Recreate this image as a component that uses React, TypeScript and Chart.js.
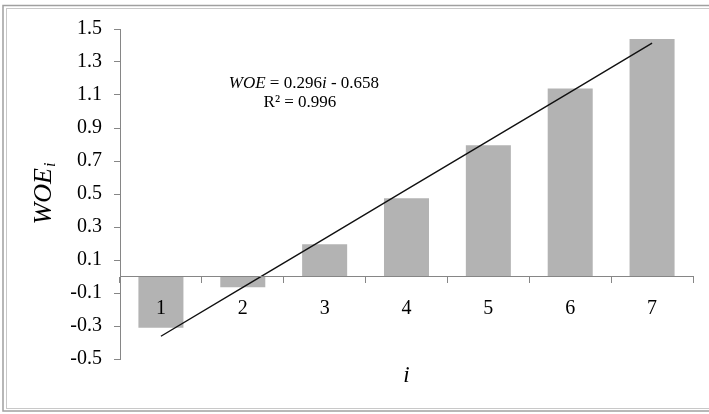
import { useEffect, useRef } from "react";
import { Chart, registerables } from "chart.js";

Chart.register(...registerables);

const categories = ["1", "2", "3", "4", "5", "6", "7"];
const woeValues = [-0.31, -0.065, 0.195, 0.475, 0.795, 1.14, 1.44];
const trendValues = [-0.362, -0.066, 0.23, 0.526, 0.822, 1.118, 1.414];
const yMin = -0.5;
const yMax = 1.5;
const yStep = 0.2;
const yTitleMain = "WOE";
const yTitleSub = "i";
const xTitle = "i";
const eqParts: [string, boolean][] = [
  ["WOE", true],
  [" = 0.296", false],
  ["i", true],
  [" - 0.658", false],
];
const r2Text = "R\u00B2 = 0.996";

const FONT = "'Liberation Serif', 'Times New Roman', serif";

const framePlugin = {
  id: "frame",
  beforeDraw(chart: any) {
    const { ctx, width, height } = chart;
    ctx.save();
    ctx.fillStyle = "#ffffff";
    ctx.fillRect(0, 0, width, height);
    ctx.strokeStyle = "#a0a0a0";
    ctx.lineWidth = 1.5;
    ctx.strokeRect(3, 5.5, width + 10, height - 5.5 - 3);
    ctx.strokeStyle = "#c8c8c8";
    ctx.lineWidth = 1;
    ctx.strokeRect(6.5, 8.5, width + 10, height - 8.5 - 5.5);
    ctx.restore();
  },
};

const textPlugin = {
  id: "texts",
  afterDraw(chart: any) {
    const { ctx, chartArea } = chart;
    ctx.save();
    ctx.fillStyle = "#000000";
    // y title with subscript
    const cy = (chartArea.top + chartArea.bottom) / 2;
    ctx.translate(43, cy);
    ctx.rotate(-Math.PI / 2);
    const mainFont = `italic 26px ${FONT}`;
    const subFont = `italic 16px ${FONT}`;
    ctx.font = mainFont;
    const wMain = ctx.measureText(yTitleMain).width;
    ctx.font = subFont;
    const wSub = ctx.measureText(yTitleSub).width;
    const total = wMain + wSub;
    ctx.textBaseline = "alphabetic";
    ctx.textAlign = "left";
    ctx.font = mainFont;
    ctx.fillText(yTitleMain, -total / 2, 8);
    ctx.font = subFont;
    ctx.fillText(yTitleSub, -total / 2 + wMain + 1, 12);
    ctx.restore();

    // equation
    ctx.save();
    ctx.fillStyle = "#000000";
    ctx.textBaseline = "middle";
    ctx.textAlign = "left";
    const w = chartArea.right - chartArea.left;
    const h = chartArea.bottom - chartArea.top;
    const ex = chartArea.left + 0.321 * w;
    const ey1 = chartArea.top + 0.165 * h;
    const ey2 = chartArea.top + 0.222 * h;
    let widths = 0;
    for (const [t, it] of eqParts) {
      ctx.font = `${it ? "italic " : ""}17px ${FONT}`;
      widths += ctx.measureText(t).width;
    }
    let x = ex - widths / 2;
    for (const [t, it] of eqParts) {
      ctx.font = `${it ? "italic " : ""}17px ${FONT}`;
      ctx.fillText(t, x, ey1);
      x += ctx.measureText(t).width;
    }
    ctx.font = `17px ${FONT}`;
    ctx.textAlign = "center";
    ctx.fillText(r2Text, ex - 4, ey2);
    ctx.restore();
  },
};

export default function App() {
  const ref = useRef<HTMLCanvasElement | null>(null);
  useEffect(() => {
    if (!ref.current) return;
    const chart = new Chart(ref.current, {
      type: "bar",
      data: {
        labels: categories,
        datasets: [
          {
            type: "line",
            data: trendValues,
            borderColor: "#111111",
            borderWidth: 1.4,
            pointRadius: 0,
            fill: false,
            tension: 0,
            order: 0,
          } as any,
          {
            type: "bar",
            data: woeValues,
            backgroundColor: "#b3b3b3",
            borderWidth: 0,
            barPercentage: 0.55,
            categoryPercentage: 1,
            order: 1,
          },
        ],
      },
      options: {
        animation: false,
        responsive: true,
        maintainAspectRatio: false,
        layout: { padding: { left: 0, right: 16, top: 29, bottom: 55 } },
        plugins: {
          legend: { display: false },
          tooltip: { enabled: false },
        },
        scales: {
          x: {
            type: "category",
            position: { y: 0 } as any,
            offset: true,
            grid: {
              drawOnChartArea: false,
              drawTicks: true,
              tickLength: 6,
              color: "#868686",
              offset: true,
              z: 1,
            },
            border: { color: "#868686", width: 1, z: 1 },
            ticks: {
              color: "#000000",
              font: { family: FONT, size: 20 },
              padding: 14,
              maxRotation: 0,
              autoSkip: false,
              z: 1,
            },
            title: {
              display: true,
              text: xTitle,
              color: "#000000",
              font: { family: FONT, size: 23, style: "italic" },
              padding: { top: 28, bottom: 0 },
            },
          },
          y: {
            type: "linear",
            min: yMin,
            max: yMax,
            afterFit: (scale: any) => {
              scale.width = 120;
            },
            grid: {
              drawOnChartArea: false,
              drawTicks: true,
              tickLength: 6,
              color: "#868686",
            },
            border: { color: "#868686", width: 1 },
            ticks: {
              stepSize: yStep,
              color: "#000000",
              font: { family: FONT, size: 20 },
              padding: 12,
              callback: (v: any) => Number(v).toFixed(1),
            },
          },
        },
      },
      plugins: [framePlugin, textPlugin],
    });
    return () => chart.destroy();
  }, []);
  return (
    <div style={{ position: "absolute", left: 0, top: 0, width: 709, height: 414, background: "#fff" }}>
      <canvas ref={ref} />
    </div>
  );
}
